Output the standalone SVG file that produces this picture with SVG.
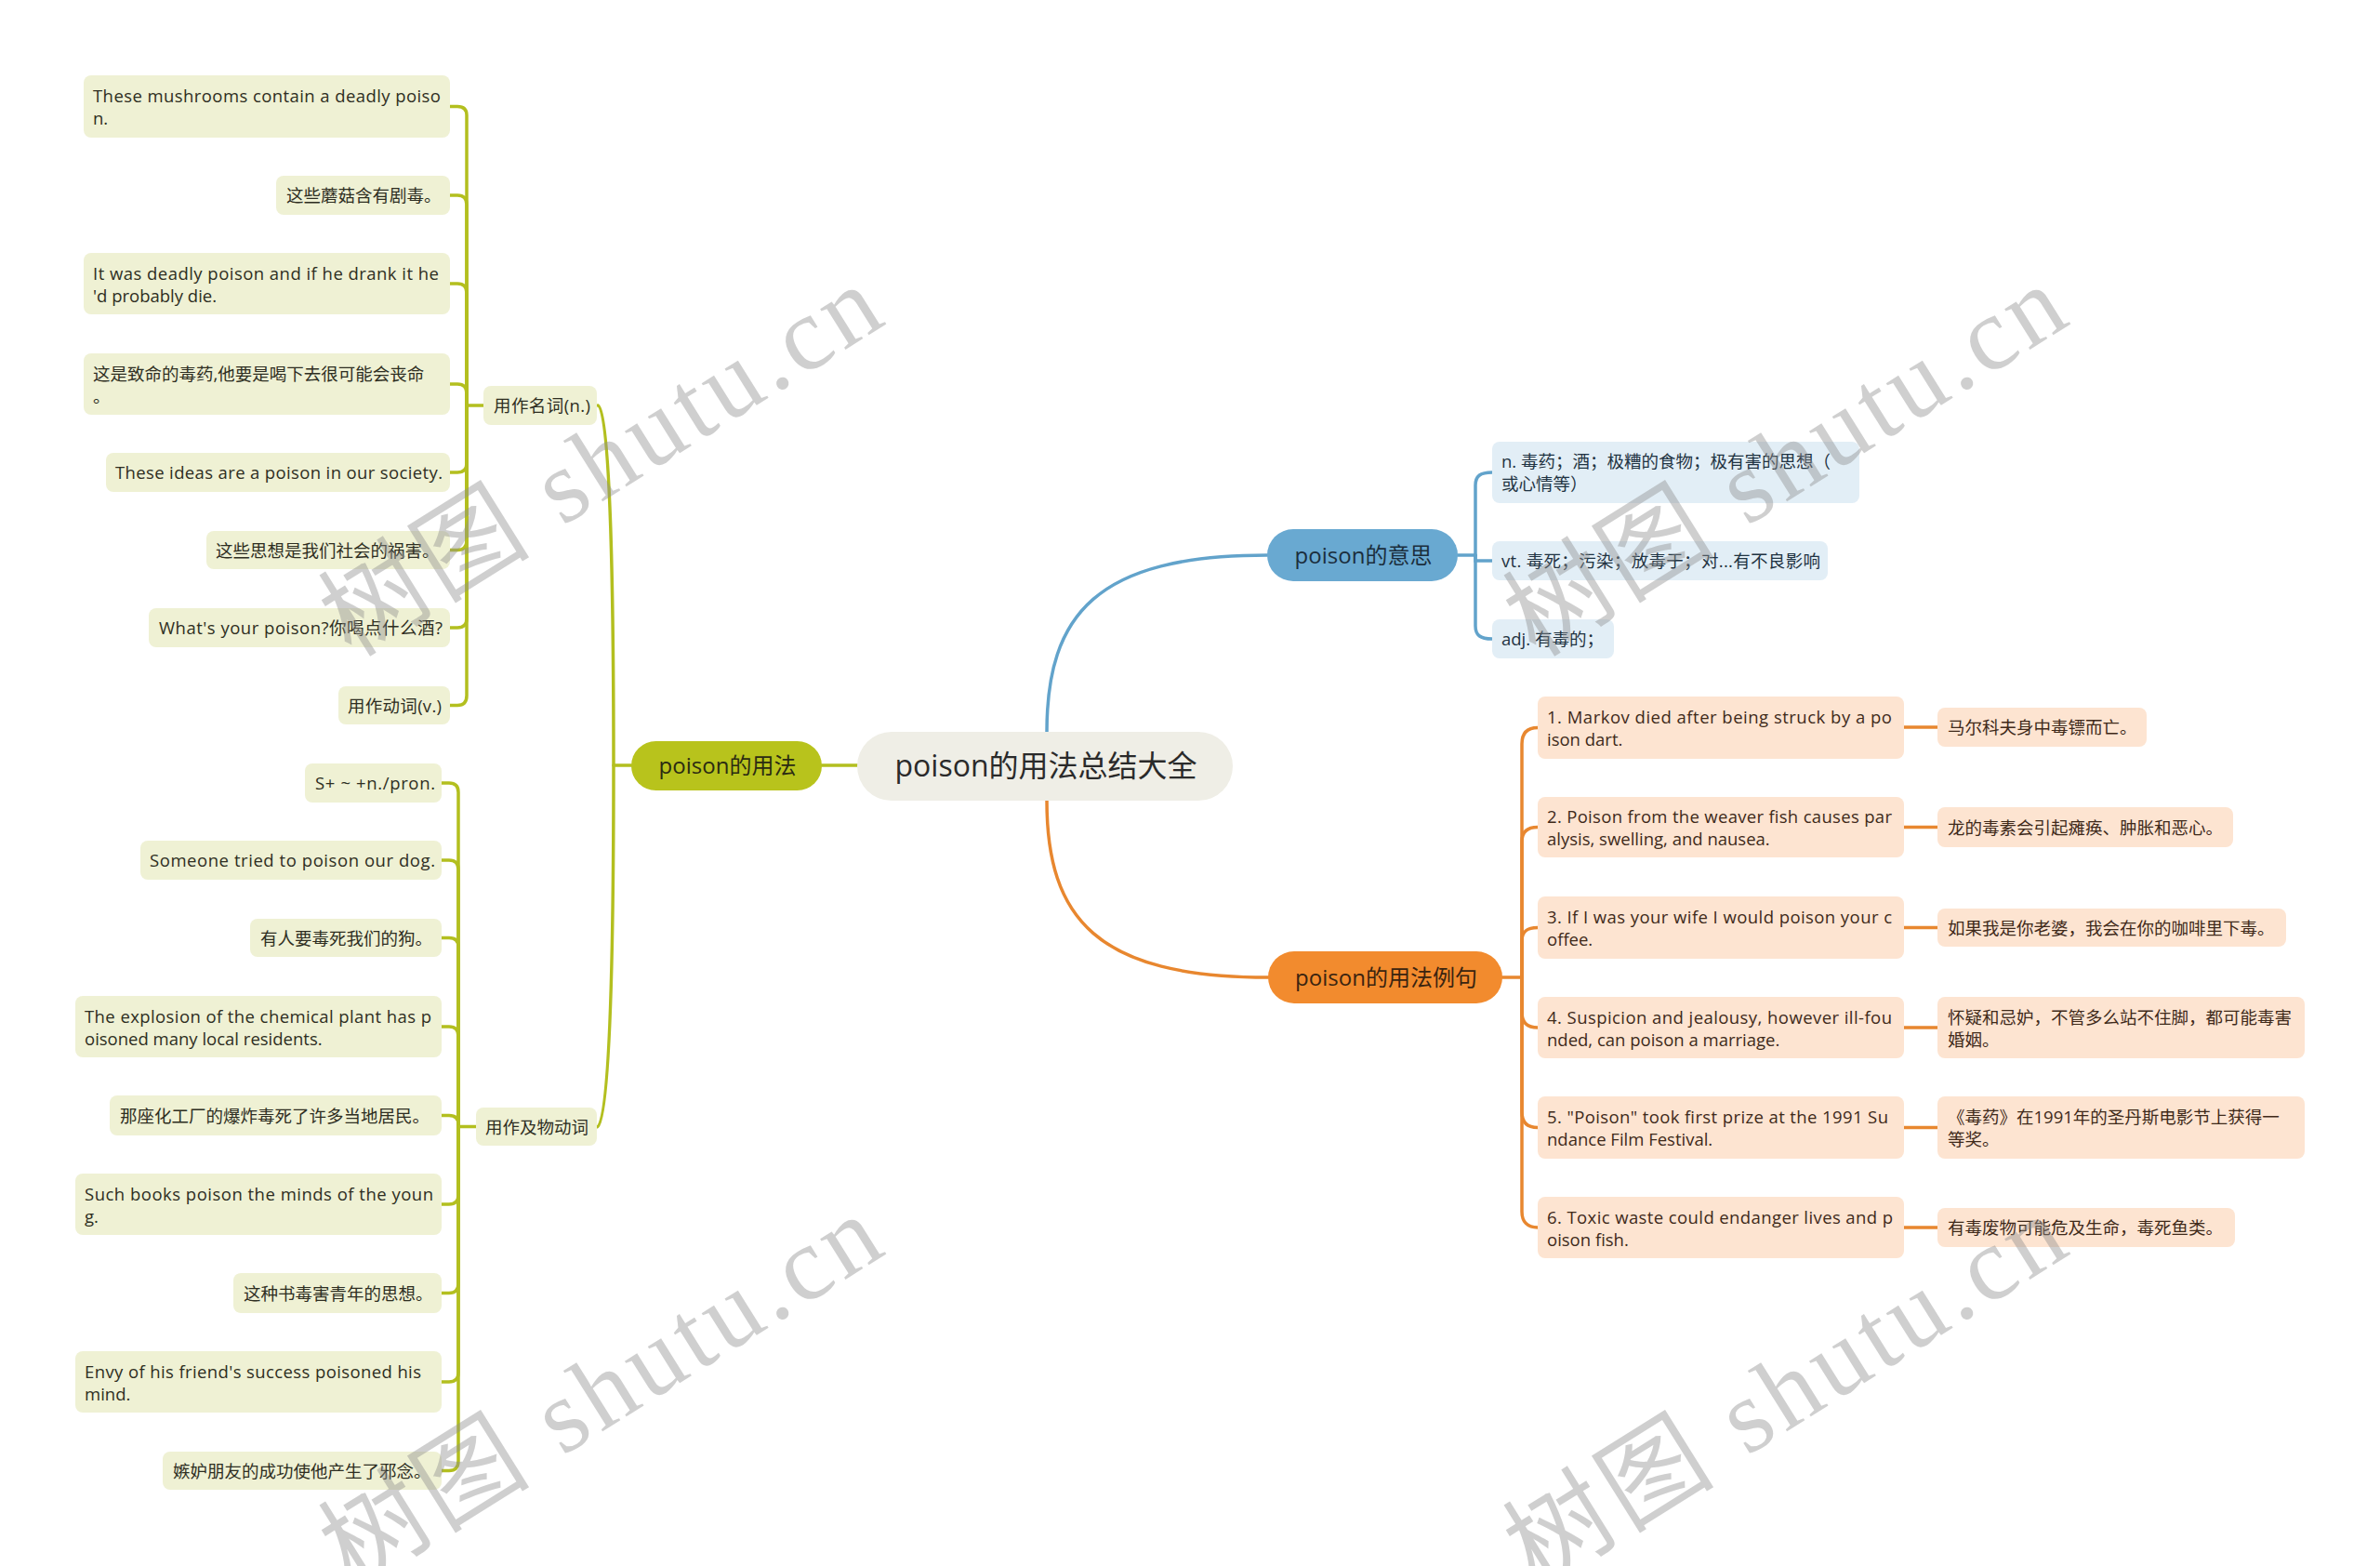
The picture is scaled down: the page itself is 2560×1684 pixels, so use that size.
<svg xmlns="http://www.w3.org/2000/svg" width="2560" height="1684" viewBox="0 0 2560 1684">
<style>
.t{font-family:"Open Sans","Noto Sans CJK SC",sans-serif;font-size:18.5px}
.gl rect{fill:#eff1d4}
.gl text{fill:#2e2e22}
.bl rect{fill:#e2eef6}
.bl text{fill:#1f3342}
.ol rect{fill:#fde4d1}
.ol text{fill:#3f2a1a}
.cg{fill:none;stroke:#b3bf1f;stroke-width:3.5;stroke-linecap:round}
.cb{fill:none;stroke:#62a3cb;stroke-width:3.5;stroke-linecap:round}
.co{fill:none;stroke:#e8872f;stroke-width:3.5;stroke-linecap:round}
.wm{font-family:"Liberation Serif","Noto Sans CJK SC",serif;font-size:112px;fill:#8c8c8c;fill-opacity:0.42}
</style>
<rect width="2560" height="1684" fill="#ffffff"/>
<g id="connectors">
<path class="cg" d="M884,823 H922"/>
<path class="cg" d="M643,436 C655,436 660,600 660,823 C660,1050 655,1212 642,1212"/>
<path class="cg" d="M660,823 H679"/>
<path class="cg" d="M502,436 H520"/>
<path class="cg" d="M502,436 V124 Q502,114.5 492,114.5 H484"/>
<path class="cg" d="M502,436 V220 Q502,210 492,210 H484"/>
<path class="cg" d="M502,436 V315 Q502,305 492,305 H484"/>
<path class="cg" d="M502,436 V423 Q502,413 492,413 H484"/>
<path class="cg" d="M502,436 V498 Q502,508 492,508 H484"/>
<path class="cg" d="M502,436 V581 Q502,591.5 492,591.5 H484"/>
<path class="cg" d="M502,436 V665 Q502,675 492,675 H484"/>
<path class="cg" d="M502,436 V748 Q502,758.5 492,758.5 H484"/>
<path class="cg" d="M493,1211.5 H512"/>
<path class="cg" d="M493,1211.5 V852 Q493,842 483,842 H475"/>
<path class="cg" d="M493,1211.5 V935 Q493,925 483,925 H475"/>
<path class="cg" d="M493,1211.5 V1018 Q493,1008.5 483,1008.5 H475"/>
<path class="cg" d="M493,1211.5 V1114 Q493,1104 483,1104 H475"/>
<path class="cg" d="M493,1211.5 V1209 Q493,1199.5 483,1199.5 H475"/>
<path class="cg" d="M493,1211.5 V1285 Q493,1295 483,1295 H475"/>
<path class="cg" d="M493,1211.5 V1380 Q493,1390.5 483,1390.5 H475"/>
<path class="cg" d="M493,1211.5 V1476 Q493,1486 483,1486 H475"/>
<path class="cg" d="M493,1211.5 V1571 Q493,1581.5 483,1581.5 H475"/>
<path class="cb" d="M1126,787 C1126,660 1180,597 1363,597"/>
<path class="cb" d="M1568,597 H1587"/>
<path class="cb" d="M1587,597 V522 C1587,512 1592,508 1605,508"/>
<path class="cb" d="M1587,597 V603 H1605"/>
<path class="cb" d="M1587,597 V673 C1587,683 1592,687 1605,687"/>
<path class="co" d="M1126,861 C1126,988 1180,1051 1364,1051"/>
<path class="co" d="M1616,1051 H1637"/>
<path class="co" d="M1637,1051 V800 C1637,788 1643,782.5 1654,782.5"/>
<path class="co" d="M1637,1051 V905 C1637,894 1643,889.5 1654,889.5"/>
<path class="co" d="M1637,1051 V1012 C1637,1001 1643,997.5 1654,997.5"/>
<path class="co" d="M1637,1051 V1089 C1637,1100 1643,1105 1654,1105"/>
<path class="co" d="M1637,1051 V1196 C1637,1207 1643,1212.5 1654,1212.5"/>
<path class="co" d="M1637,1051 V1303 C1637,1314 1643,1320 1654,1320"/>
<path class="co" d="M2048,782 H2084"/>
<path class="co" d="M2048,889.5 H2084"/>
<path class="co" d="M2048,997.5 H2084"/>
<path class="co" d="M2048,1105 H2084"/>
<path class="co" d="M2048,1212.5 H2084"/>
<path class="co" d="M2048,1320 H2084"/>
</g>
<g id="center" class="t">
<rect x="922" y="787" width="404" height="74" rx="37" fill="#efeee6"/>
<text x="1125" y="835" text-anchor="middle" font-size="32" fill="#2a2a2a">poison的用法总结大全</text>
</g>
<g id="b-usage" class="t">
<rect x="679" y="797" width="205" height="53" rx="26.5" fill="#b8c31c"/>
<text x="782.5" y="832" text-anchor="middle" font-size="24" fill="#2b2b12">poison的用法</text>
</g>
<g id="b-meaning" class="t">
<rect x="1363" y="569" width="205" height="56" rx="28" fill="#69a9d1"/>
<text x="1466.5" y="605.5" text-anchor="middle" font-size="24" fill="#1b2e3d">poison的意思</text>
</g>
<g id="b-examples" class="t">
<rect x="1364" y="1023" width="252" height="56" rx="28" fill="#f28b2e"/>
<text x="1491" y="1059.5" text-anchor="middle" font-size="24" fill="#3a2410">poison的用法例句</text>
</g>
<g id="noun" class="t gl"><rect x="520" y="415" width="122" height="42" rx="8"/><text x="531" y="443" textLength="104">用作名词(n.)</text></g>
<g id="n1" class="t gl"><rect x="90" y="81" width="394" height="67" rx="8"/><text x="100" y="110" textLength="374">These mushrooms contain a deadly poiso</text><text x="100" y="134">n.</text></g>
<g id="n2" class="t gl"><rect x="297" y="189" width="187" height="42" rx="8"/><text x="308" y="217">这些蘑菇含有剧毒。</text></g>
<g id="n3" class="t gl"><rect x="90" y="272" width="394" height="66" rx="8"/><text x="100" y="300.5" textLength="372">It was deadly poison and if he drank it he</text><text x="100" y="324.5">'d probably die.</text></g>
<g id="n4" class="t gl"><rect x="90" y="380" width="394" height="66" rx="8"/><text x="100" y="408.5">这是致命的毒药,他要是喝下去很可能会丧命</text><text x="100" y="432.5">。</text></g>
<g id="n5" class="t gl"><rect x="114" y="487" width="370" height="42" rx="8"/><text x="124" y="515" textLength="352">These ideas are a poison in our society.</text></g>
<g id="n6" class="t gl"><rect x="222" y="571" width="262" height="41" rx="8"/><text x="232" y="598.5">这些思想是我们社会的祸害。</text></g>
<g id="n7" class="t gl"><rect x="160" y="654" width="324" height="42" rx="8"/><text x="171" y="682" textLength="305">What's your poison?你喝点什么酒?</text></g>
<g id="n8" class="t gl"><rect x="364" y="738" width="120" height="41" rx="8"/><text x="374" y="765.5" textLength="101">用作动词(v.)</text></g>
<g id="verb" class="t gl"><rect x="512" y="1191" width="130" height="41" rx="8"/><text x="522" y="1218.5">用作及物动词</text></g>
<g id="v1" class="t gl"><rect x="328" y="821" width="147" height="42" rx="8"/><text x="339" y="849" textLength="129">S+ ~ +n./pron.</text></g>
<g id="v2" class="t gl"><rect x="151" y="904" width="324" height="42" rx="8"/><text x="161" y="932" textLength="307">Someone tried to poison our dog.</text></g>
<g id="v3" class="t gl"><rect x="269" y="988" width="206" height="41" rx="8"/><text x="280" y="1015.5">有人要毒死我们的狗。</text></g>
<g id="v4" class="t gl"><rect x="81" y="1071" width="394" height="66" rx="8"/><text x="91" y="1099.5" textLength="373">The explosion of the chemical plant has p</text><text x="91" y="1123.5">oisoned many local residents.</text></g>
<g id="v5" class="t gl"><rect x="118" y="1178" width="357" height="43" rx="8"/><text x="129" y="1206.5">那座化工厂的爆炸毒死了许多当地居民。</text></g>
<g id="v6" class="t gl"><rect x="81" y="1262" width="394" height="66" rx="8"/><text x="91" y="1290.5" textLength="375">Such books poison the minds of the youn</text><text x="91" y="1314.5">g.</text></g>
<g id="v7" class="t gl"><rect x="251" y="1369" width="224" height="43" rx="8"/><text x="262" y="1397.5">这种书毒害青年的思想。</text></g>
<g id="v8" class="t gl"><rect x="81" y="1453" width="394" height="66" rx="8"/><text x="91" y="1481.5" textLength="362">Envy of his friend's success poisoned his</text><text x="91" y="1505.5">mind.</text></g>
<g id="v9" class="t gl"><rect x="175" y="1561" width="300" height="41" rx="8"/><text x="186" y="1588.5">嫉妒朋友的成功使他产生了邪念。</text></g>
<g id="m1" class="t bl"><rect x="1605" y="475" width="395" height="66" rx="8"/><text x="1615" y="503">n. 毒药；酒；极糟的食物；极有害的思想（</text><text x="1615" y="527">或心情等）</text></g>
<g id="m2" class="t bl"><rect x="1605" y="582" width="361" height="42" rx="8"/><text x="1615" y="610" textLength="343">vt. 毒死；污染；放毒于；对...有不良影响</text></g>
<g id="m3" class="t bl"><rect x="1605" y="666" width="131" height="42" rx="8"/><text x="1615" y="694">adj. 有毒的；</text></g>
<g id="e1" class="t ol"><rect x="1654" y="749" width="394" height="67" rx="8"/><text x="1664" y="778" textLength="371">1. Markov died after being struck by a po</text><text x="1664" y="802">ison dart.</text></g>
<g id="e2" class="t ol"><rect x="1654" y="857" width="394" height="65" rx="8"/><text x="1664" y="885" textLength="371">2. Poison from the weaver fish causes par</text><text x="1664" y="909">alysis, swelling, and nausea.</text></g>
<g id="e3" class="t ol"><rect x="1654" y="964" width="394" height="67" rx="8"/><text x="1664" y="993" textLength="371">3. If I was your wife I would poison your c</text><text x="1664" y="1017">offee.</text></g>
<g id="e4" class="t ol"><rect x="1654" y="1072" width="394" height="66" rx="8"/><text x="1664" y="1100.5" textLength="371">4. Suspicion and jealousy, however ill-fou</text><text x="1664" y="1124.5">nded, can poison a marriage.</text></g>
<g id="e5" class="t ol"><rect x="1654" y="1179" width="394" height="67" rx="8"/><text x="1664" y="1208" textLength="367">5. "Poison" took first prize at the 1991 Su</text><text x="1664" y="1232">ndance Film Festival.</text></g>
<g id="e6" class="t ol"><rect x="1654" y="1287" width="394" height="66" rx="8"/><text x="1664" y="1315.5" textLength="372">6. Toxic waste could endanger lives and p</text><text x="1664" y="1339.5">oison fish.</text></g>
<g id="r1" class="t ol"><rect x="2084" y="761" width="225" height="42" rx="8"/><text x="2095" y="789">马尔科夫身中毒镖而亡。</text></g>
<g id="r2" class="t ol"><rect x="2084" y="868" width="318" height="43" rx="8"/><text x="2095" y="896.5">龙的毒素会引起瘫痪、肿胀和恶心。</text></g>
<g id="r3" class="t ol"><rect x="2084" y="977" width="375" height="41" rx="8"/><text x="2095" y="1004.5">如果我是你老婆，我会在你的咖啡里下毒。</text></g>
<g id="r4" class="t ol"><rect x="2084" y="1072" width="395" height="66" rx="8"/><text x="2095" y="1100.5">怀疑和忌妒，不管多么站不住脚，都可能毒害</text><text x="2095" y="1124.5">婚姻。</text></g>
<g id="r5" class="t ol"><rect x="2084" y="1179" width="395" height="67" rx="8"/><text x="2095" y="1208">《毒药》在1991年的圣丹斯电影节上获得一</text><text x="2095" y="1232">等奖。</text></g>
<g id="r6" class="t ol"><rect x="2084" y="1299" width="320" height="42" rx="8"/><text x="2095" y="1327">有毒废物可能危及生命，毒死鱼类。</text></g>
<g id="watermarks" class="wm">
<text transform="translate(378,708) rotate(-32)" textLength="680">树图 shutu.cn</text>
<text transform="translate(1652,708) rotate(-32)" textLength="680">树图 shutu.cn</text>
<text transform="translate(378,1708) rotate(-32)" textLength="680">树图 shutu.cn</text>
<text transform="translate(1652,1708) rotate(-32)" textLength="680">树图 shutu.cn</text>
</g>
</svg>
